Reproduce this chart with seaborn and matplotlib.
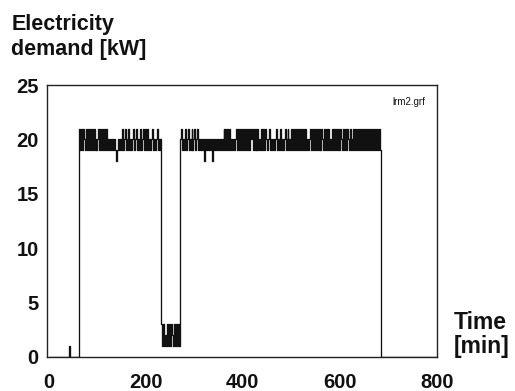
import numpy as np
import pandas as pd
import matplotlib
matplotlib.use("Agg")
import matplotlib.pyplot as plt
import seaborn as sns

# --- data: electricity demand [kW], sampled every 2 min ---
step_min = 2

# idle before start (time, kW) breakpoints
pre_time = [0, 42, 44]
pre_kw = [0, 1, 0]

# first running period, starts at 62 min
run1_start = 62
run1_kw = [
    21, 19, 21, 19, 21, 20, 19, 21, 19, 21,
    19, 21, 19, 21, 19, 21, 19, 20, 19, 20,
    21, 19, 21, 19, 21, 19, 21, 19, 21, 19,
    20, 19, 20, 19, 20, 19, 20, 19, 18, 19,
    20, 19, 20, 19, 21, 19, 20, 21, 19, 20,
    19, 21, 19, 20, 19, 20, 21, 19, 20, 21,
    19, 20, 19, 21, 19, 20, 21, 19, 21, 19,
    21, 19, 20, 19, 20, 21, 19, 20, 19, 20,
    21, 19, 20, 19, 20,
]

# low-load interval, starts at 232 min
low_start = 232
low_kw = [3, 1, 3, 1, 2, 1, 3, 1, 3, 1, 3, 2, 1, 3, 1, 3, 1, 3, 1]

# second running period, starts at 270 min
run2_start = 270
run2_kw = [
    20, 21, 19, 20, 19, 21, 19, 20, 21, 19,
    20, 19, 21, 19, 20, 21, 19, 20, 21, 19,
    20, 19, 20, 19, 20, 18, 20, 19, 20, 19,
    20, 19, 20, 18, 20, 19, 20, 19, 20, 19,
    20, 19, 20, 19, 20, 21, 19, 21, 19, 21,
    19, 21, 19, 20, 19, 20, 19, 20, 21, 19,
    21, 19, 21, 19, 21, 19, 21, 19, 21, 19,
    21, 19, 21, 20, 21, 19, 21, 19, 21, 19,
    21, 19, 20, 19, 21, 19, 21, 19, 21, 20,
    19, 20, 21, 19, 20, 19, 20, 19, 20, 21,
    19, 20, 19, 21, 19, 20, 19, 20, 21, 19,
    20, 21, 19, 20, 19, 21, 19, 21, 19, 21,
    19, 21, 19, 21, 19, 21, 19, 21, 19, 21,
    19, 20, 19, 20, 21, 19, 21, 19, 21, 19,
    21, 19, 21, 19, 21, 19, 21, 20, 19, 21,
    19, 21, 19, 21, 19, 20, 19, 21, 19, 21,
    19, 21, 19, 21, 19, 21, 20, 19, 21, 19,
    21, 19, 21, 20, 19, 21, 19, 20, 19, 21,
    19, 21, 19, 21, 19, 21, 19, 21, 19, 21,
    19, 21, 19, 21, 19, 21, 19, 21, 19, 21,
    19, 21, 19, 21, 19, 21, 19,
]

# off after the run
post_time = [684, 800]
post_kw = [0, 0]

x_ticks = [0, 200, 400, 600, 800]
y_ticks = [0, 5, 10, 15, 20, 25]

# === build table ===
def seg(start, vals):
    return list(start + step_min * np.arange(len(vals))), list(vals)

t1, v1 = seg(run1_start, run1_kw)
tl, vl = seg(low_start, low_kw)
t2, v2 = seg(run2_start, run2_kw)
df = pd.DataFrame({
    "time": pre_time + t1 + tl + t2 + post_time,
    "kw": pre_kw + v1 + vl + v2 + post_kw,
})

# === plot ===
sns.set_style("white")
plt.rcParams["font.family"] = ["Liberation Sans", "DejaVu Sans"]

fig = plt.figure(figsize=(5.15, 3.91), dpi=100)
ax = fig.add_axes([0.0913, 0.087, 0.757, 0.6956])

sns.lineplot(data=df, x="time", y="kw", drawstyle="steps-post", estimator=None,
             color="#111111", linewidth=0.95, ax=ax)

ax.set_xlim(-4, 800)
ax.set_ylim(0, 25)
ax.set_xticks(x_ticks)
ax.set_yticks(y_ticks)
ax.set_xlabel("")
ax.set_ylabel("")
for s in ax.spines.values():
    s.set_color("#222222")
    s.set_linewidth(1.0)
ax.tick_params(axis="both", direction="out", length=4.5, width=1.0, color="#222222",
               labelsize=14.5)
ax.tick_params(axis="y", pad=1.5)
ax.tick_params(axis="x", pad=7)
for lab in ax.get_xticklabels() + ax.get_yticklabels():
    lab.set_fontweight("bold")
    lab.set_color("#111111")

fig.text(0.022, 0.965, "Electricity\ndemand [kW]", ha="left", va="top",
         fontsize=15.5, fontweight="bold", color="#111111", linespacing=1.25)
fig.text(0.881, 0.205, "Time\n[min]", ha="left", va="top",
         fontsize=16.5, fontweight="bold", color="#111111", linespacing=1.05)
ax.text(0.97, 0.955, "lrm2.grf", transform=ax.transAxes, ha="right", va="top",
        fontsize=7, color="#111111")

fig.savefig("out.png", dpi=100)
